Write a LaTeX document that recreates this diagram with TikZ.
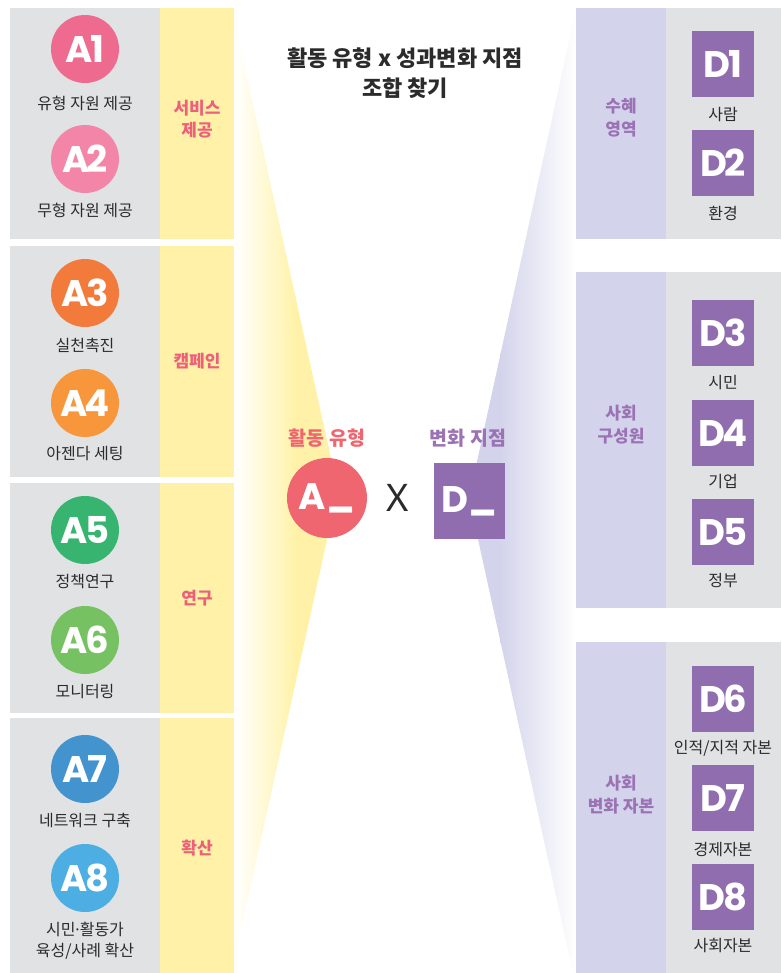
\documentclass[tikz,border=0pt]{standalone}
\usepackage{fontspec}
\setmainfont{Noto Sans CJK KR}
\newfontfamily\pop{Poppins}[LetterSpace=-7]
\newfontfamily\popc{Poppins}
\newfontfamily\xfont{Noto Sans}
\definecolor{grayp}{HTML}{E1E2E4}
\definecolor{yel}{HTML}{FFF2A8}
\definecolor{purp}{HTML}{D3D4EB}
\definecolor{catred}{HTML}{EE6079}
\definecolor{catpur}{HTML}{9B72B4}
\definecolor{dsqc}{HTML}{8F6DAE}
\definecolor{txtc}{HTML}{2B2B2B}
\definecolor{ca1}{HTML}{EE6A8F}
\definecolor{ca2}{HTML}{F285A8}
\definecolor{ca3}{HTML}{F27B3B}
\definecolor{ca4}{HTML}{F7963A}
\definecolor{ca5}{HTML}{36B470}
\definecolor{ca6}{HTML}{76C162}
\definecolor{ca7}{HTML}{4393CE}
\definecolor{ca8}{HTML}{4DAEE4}
\definecolor{cac}{HTML}{EF6670}
\begin{document}
\begin{tikzpicture}[x=1pt,y=-1pt,
  acirc/.style={circle, minimum size=68pt, inner sep=0pt, text=white, font=\pop\bfseries\fontsize{37}{37}\selectfont},
  dbox/.style={rectangle, minimum width=62pt, minimum height=66pt, inner sep=0pt, fill=dsqc, text=white, font=\pop\bfseries\fontsize{37}{37}\selectfont},
  lbl/.style={text=txtc, font=\fontsize{16}{21}\selectfont, align=center, inner sep=0pt},
  catA/.style={text=catred, font=\bfseries\fontsize{17}{22}\selectfont, align=center, inner sep=0pt},
  catD/.style={text=catpur, font=\bfseries\fontsize{17}{23}\selectfont, align=center, inner sep=0pt},
]
\useasboundingbox (0,0) rectangle (781,973);
% funnels
\begin{scope}
  \clip (234,18) -- (338,490) -- (234,962) -- cycle;
  \shade[left color=white, right color=yel] (234,0) rectangle (296,973);
  \fill[yel] (295,0) rectangle (345,973);
\end{scope}
\begin{scope}
  \clip (576,9) -- (469,498) -- (576,987) -- cycle;
  \fill[purp] (460,0) rectangle (501,973);
  \shade[left color=purp, right color=white] (500,0) rectangle (576,973);
\end{scope}
% left panels
\foreach \ya/\yb in {8/239, 246/477, 483/713, 718/973}{
  \fill[grayp] (10,\ya) rectangle (160,\yb);
  \fill[yel] (160,\ya) rectangle (234,\yb);
}
% right panels
\foreach \ya/\yb in {8/239, 272/608, 642/973}{
  \fill[purp] (576,\ya) rectangle (666,\yb);
  \fill[grayp] (666,\ya) rectangle (781,\yb);
}
% A nodes
\node[acirc, fill=ca1] (a1) at (85,49) {A1};
\node[lbl] (a1l) at (85,103) {유형 자원 제공};
\node[acirc, fill=ca2] (a2) at (85,159) {A2};
\node[lbl] (a2l) at (85,210) {무형 자원 제공};
\node[acirc, fill=ca3] (a3) at (85,293) {A3};
\node[lbl] (a3l) at (85,345) {실천촉진};
\node[acirc, fill=ca4] (a4) at (85,403) {A4};
\node[lbl] (a4l) at (85,454) {아젠다 세팅};
\node[acirc, fill=ca5] (a5) at (85,530) {A5};
\node[lbl] (a5l) at (85,582) {정책연구};
\node[acirc, fill=ca6] (a6) at (85,640) {A6};
\node[lbl] (a6l) at (85,692) {모니터링};
\node[acirc, fill=ca7] (a7) at (85,769) {A7};
\node[lbl] (a7l) at (85,820) {네트워크 구축};
\node[acirc, fill=ca8] (a8) at (85,878) {A8};
\node[lbl] (a8l) at (85,941) {시민{\xfont·}활동가\\육성/사례 확산};
% A categories
\node[catA] (c1) at (197,119) {서비스\\제공};
\node[catA] (c2) at (197,361) {캠페인};
\node[catA] (c3) at (197,598) {연구};
\node[catA] (c4) at (197,848) {확산};
% D nodes
\node[dbox] (d1) at (723,64) {D1};
\node[lbl] (d1l) at (723,115) {사람};
\node[dbox] (d2) at (723,163) {D2};
\node[lbl] (d2l) at (723,213) {환경};
\node[dbox] (d3) at (723,333) {D3};
\node[lbl] (d3l) at (723,383) {시민};
\node[dbox] (d4) at (723,433) {D4};
\node[lbl] (d4l) at (723,482) {기업};
\node[dbox] (d5) at (723,532) {D5};
\node[lbl] (d5l) at (723,581) {정부};
\node[dbox] (d6) at (723,699) {D6};
\node[lbl] (d6l) at (723,748) {인적/지적 자본};
\node[dbox] (d7) at (723,798) {D7};
\node[lbl] (d7l) at (723,849) {경제자본};
\node[dbox] (d8) at (723,897) {D8};
\node[lbl] (d8l) at (723,945) {사회자본};
% D categories
\node[catD] (e1) at (621,118) {수혜\\영역};
\node[catD] (e2) at (621,425) {사회\\구성원};
\node[catD] (e3) at (621,795) {사회\\변화 자본};
% center
\node[text=txtc, font=\bfseries\fontsize{22}{30}\selectfont, align=center, inner sep=0pt] (title) at (405,73) {활동 유형 x 성과변화 지점\\조합 찾기};
\node[text=cac, font=\bfseries\fontsize{19.5}{22}\selectfont, inner sep=0pt] (al) at (327,438) {활동 유형};
\node[text=catpur, font=\bfseries\fontsize{19.5}{22}\selectfont, inner sep=0pt] (dl) at (468,438) {변화 지점};
\node[circle, minimum size=80pt, inner sep=0pt, fill=cac, text=white, font=\popc\bfseries\fontsize{37}{37}\selectfont] (ac) at (327,498) {A\raisebox{0.1em}{\_}};
\node[text=txtc, font=\xfont\fontsize{38}{38}\selectfont, inner sep=0pt] (xx) at (398,498) {X};
\node[rectangle, minimum width=71pt, minimum height=76pt, inner sep=0pt, fill=dsqc, text=white, font=\popc\bfseries\fontsize{37}{37}\selectfont] (dc) at (469.5,501) {D\raisebox{0.1em}{\_}};
\end{tikzpicture}
\end{document}
